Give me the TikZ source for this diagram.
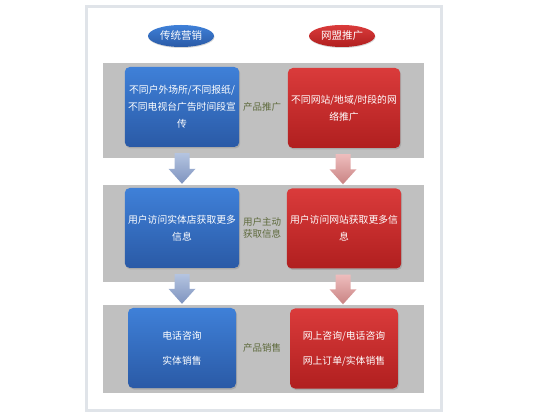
\documentclass[tikz,border=0pt]{standalone}
\usepackage{fontspec}
\setmainfont{Noto Sans CJK SC}
\usetikzlibrary{calc,shapes.geometric,shadows}
\definecolor{bandgray}{HTML}{C0C0C0}
\definecolor{frame}{HTML}{E0E4E9}
\definecolor{bluetop}{HTML}{3F80D8}
\definecolor{bluebot}{HTML}{2A5AA6}
\definecolor{redtop}{HTML}{DA3B3B}
\definecolor{redbot}{HTML}{B01F1F}
\definecolor{midtxt}{HTML}{5E6A3C}
\definecolor{barrowtop}{HTML}{B4C4E0}
\definecolor{barrowbot}{HTML}{7E93BF}
\definecolor{rarrowtop}{HTML}{EEBDBD}
\definecolor{rarrowbot}{HTML}{C98383}
\tikzset{
  band/.style={rectangle, fill=bandgray, inner sep=0pt, minimum width=321pt},
  bluebox/.style={rectangle, rounded corners=5pt, top color=bluetop, bottom color=bluebot,
    minimum width=108pt, minimum height=80pt, text=white, align=center, font=\fontsize{9.8}{17}\selectfont,
    drop shadow={shadow xshift=1pt, shadow yshift=-1.5pt, opacity=0.35}},
  redbox/.style={bluebox, top color=redtop, bottom color=redbot},
  blueell/.style={ellipse, top color=bluetop, bottom color=bluebot, minimum width=66pt, minimum height=22pt,
    inner sep=0pt, text=white, font=\fontsize{10.5}{12}\selectfont,
    drop shadow={shadow xshift=0.5pt, shadow yshift=-1pt, opacity=0.3}},
  redell/.style={blueell, top color=redtop, bottom color=redbot},
  midlabel/.style={text=midtxt, align=center, font=\fontsize{9.5}{12}\selectfont},
}
\newcommand{\blockarrow}[4]{%
  \path[top color=#3, bottom color=#4]
    ($(#1)+(-7.5,0)$) -- ($(#1)+(7.5,0)$) -- ($(#2)+(7.5,-15)$) -- ($(#2)+(13.5,-15)$) --
    (#2) -- ($(#2)+(-13.5,-15)$) -- ($(#2)+(-7.5,-15)$) -- cycle;}
\begin{document}
\begin{tikzpicture}[x=1pt,y=-1pt]
\useasboundingbox (0,0) rectangle (535,419);
\fill[white] (0,0) rectangle (535,419);
\draw[frame, line width=3pt] (86.5,6.5) rectangle (441,410);
% bands
\node[band, minimum height=95pt] (b1) at (263.5,110.5) {};
\node[band, minimum height=97pt] (b2) at (263.5,233.5) {};
\node[band, minimum height=88pt] (b3) at (263.5,349) {};
% headers
\node[blueell] (h1) at (181,36) {传统营销};
\node[redell] (h2) at (342,36) {网盟推广};
% boxes
\node[bluebox] (bl1) at (182,107) {不同户外场所/不同报纸/\\不同电视台广告时间段宣\\传};
\node[redbox] (rd1) at (344,108) {不同网站/地域/时段的网\\络推广};
\node[bluebox] (bl2) at (182,228) {用户访问实体店获取更多\\信息};
\node[redbox] (rd2) at (344,228.5) {用户访问网站获取更多信\\息};
\node[bluebox] (bl3) at (182,348) {电话咨询\\[8pt]实体销售};
\node[redbox] (rd3) at (344,348.5) {网上咨询/电话咨询\\[8pt]网上订单/实体销售};
% middle labels
\node[midlabel] (m1) at (262,107) {产品推广};
\node[midlabel] (m2) at (262,228) {用户主动\\获取信息};
\node[midlabel] (m3) at (262,348) {产品销售};
% arrows
\coordinate (a1s) at ($(bl1.south)+(0,6)$);
\coordinate (a1e) at ($(bl2.north)+(0,-4)$);
\coordinate (a2s) at ($(bl2.south)+(0,6)$);
\coordinate (a2e) at ($(bl3.north)+(0,-4)$);
\coordinate (a3s) at ($(rd1.south)+(-1,6)$);
\coordinate (a3e) at ($(rd2.north)+(-1,-4)$);
\coordinate (a4s) at ($(rd2.south)+(-1,6)$);
\coordinate (a4e) at ($(rd3.north)+(-1,-4)$);
\blockarrow{a1s}{a1e}{barrowtop}{barrowbot}
\blockarrow{a2s}{a2e}{barrowtop}{barrowbot}
\blockarrow{a3s}{a3e}{rarrowtop}{rarrowbot}
\blockarrow{a4s}{a4e}{rarrowtop}{rarrowbot}
\end{tikzpicture}
\end{document}
